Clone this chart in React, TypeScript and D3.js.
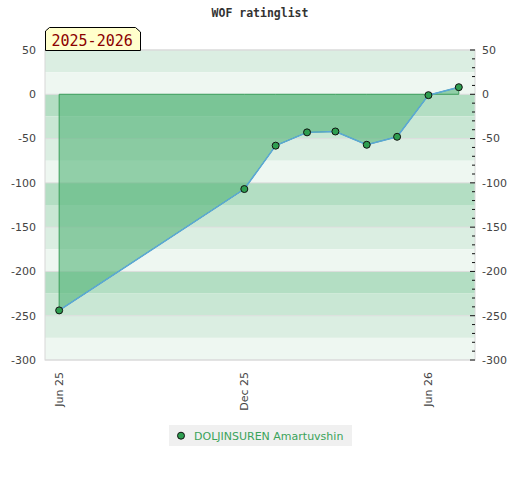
import React from "react";
import * as d3 from "d3";

const pointDates = ["2025-06-01", "2025-12-01", "2026-01-01", "2026-02-01", "2026-03-01", "2026-04-01", "2026-05-01", "2026-06-01", "2026-07-01"];
const ratings = [-244, -107, -58, -43, -42, -57, -48, -1, 8];
const yTickValues = [50, 0, -50, -100, -150, -200, -250, -300];
const xTickDates = ["2025-06-01", "2025-12-01", "2026-06-01"];
const xTickLabels = ["Jun 25", "Dec 25", "Jun 26"];
const seriesName = "DOLJINSUREN Amartuvshin";
const chartTitle = "WOF ratinglist";
const seasonLabel = "2025-2026";

const W = 520, H = 480;
const L = 45, R = 475, T = 50, B = 360;
const bandColors = ["#b3dec3", "#c9e7d4", "#dbeee2", "#eef7f1"];

export default function App() {
  const parse = d3.utcParse("%Y-%m-%d");
  const x = d3.scaleUtc().domain([parse("2025-05-18")!, parse("2026-07-17")!]).range([L, R]);
  const y = d3.scaleLinear().domain([-300, 50]).range([B, T]);
  const data = pointDates.map((d, i) => ({ date: parse(d)!, v: ratings[i] }));

  const area = d3.area<{ date: Date; v: number }>().x(d => x(d.date)).y0(y(0)).y1(d => y(d.v));
  const line = d3.line<{ date: Date; v: number }>().x(d => x(d.date)).y(d => y(d.v));

  // bands every 25 units
  const bands: { top: number; bot: number; c: string }[] = [];
  for (let v = 50; v > -300; v -= 25) {
    const idx = ((Math.round(-v / 25) % 4) + 4) % 4; // 0..-25 -> idx 0
    bands.push({ top: y(v), bot: y(v - 25), c: bandColors[idx] });
  }
  const minorTicks = d3.range(-300, 51, 10);

  return (
    <svg width={W} height={H} style={{ position: "absolute", left: 0, top: 0, background: "#fff" }}>
      <text x={260} y={17} textAnchor="middle" fontFamily="'DejaVu Sans Mono', monospace" fontWeight="bold" fontSize={11.5} fill="#333">{chartTitle}</text>

      {bands.map((b, i) => (
        <rect key={i} x={L} y={b.top} width={R - L} height={b.bot - b.top} fill={b.c} />
      ))}
      {yTickValues.map(v => (
        <line key={v} x1={L} x2={R} y1={y(v)} y2={y(v)} stroke="#dddddd" strokeWidth={1} />
      ))}
      <rect x={L} y={T} width={R - L} height={B - T} fill="none" stroke="#d8d8d8" strokeWidth={1} />

      <path d={area(data) || ""} fill="rgb(84,180,120)" fillOpacity={0.6} stroke="#3a9e5a" strokeWidth={1} />
      <path d={line(data) || ""} fill="none" stroke="#5ba7d8" strokeWidth={1.5} />
      {data.map((d, i) => (
        <circle key={i} cx={x(d.date)} cy={y(d.v)} r={3.5} fill="#2e9e50" stroke="#111" strokeWidth={1} />
      ))}

      {minorTicks.map(v => (
        <line key={v} x1={v % 50 === 0 ? R - 5 : R - 3} x2={R} y1={y(v)} y2={y(v)} stroke="#111" strokeWidth={1} />
      ))}

      {yTickValues.map(v => (
        <g key={v}>
          <text x={36} y={y(v)} dy="0.35em" textAnchor="end" fontFamily="'DejaVu Sans', sans-serif" fontSize={11} fill="#444">{v}</text>
          <text x={482} y={y(v)} dy="0.35em" textAnchor="start" fontFamily="'DejaVu Sans', sans-serif" fontSize={11} fill="#444">{v}</text>
        </g>
      ))}

      {xTickDates.map((d, i) => {
        const px = x(parse(d)!);
        return (
          <text key={d} transform={`translate(${px},372) rotate(-90)`} dy="0.35em" textAnchor="end" fontFamily="'DejaVu Sans', sans-serif" fontSize={11} fill="#444">{xTickLabels[i]}</text>
        );
      })}

      <path d={`M45.5,50.5 L45.5,31 L49.5,27.5 L135.5,27.5 L140.5,32 L140.5,50.5 Z`} fill="#ffffcc" stroke="#000" strokeWidth={1} />
      <text x={51.5} y={45.5} fontFamily="'DejaVu Sans Mono', monospace" fontSize={15} fill="#8b0000">{seasonLabel}</text>

      <rect x={169} y={425} width={183} height={21} fill="#f0f0f0" />
      <circle cx={181} cy={435.7} r={3.5} fill="#2e9e50" stroke="#111" strokeWidth={1} />
      <text x={194} y={435.7} dy="0.35em" fontFamily="'DejaVu Sans', sans-serif" fontSize={11} fill="#3aa35a">{seriesName}</text>
    </svg>
  );
}
